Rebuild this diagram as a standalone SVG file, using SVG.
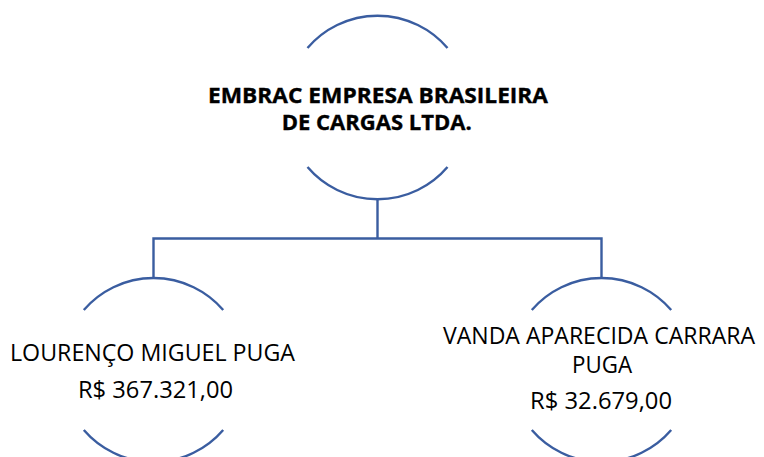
<svg xmlns="http://www.w3.org/2000/svg" width="764" height="457" viewBox="0 0 764 457">
<style>
.arc{fill:none;stroke:#3A5DA0;stroke-width:2.4}
.con{fill:none;stroke:#3A5DA0;stroke-width:2.4}
.t{font-family:"Open Sans","Liberation Sans",sans-serif;fill:#000;text-anchor:middle}
.b{font-weight:bold;font-size:21px;stroke:#000;stroke-width:0.35}
.n{font-size:23.5px}
</style>
<rect width="764" height="457" fill="#fff"/>
<g id="connectors">
<path class="con" d="M377.5,199.5 V238.5 M153.5,278 V238.5 H601.5 V278"/>
</g>
<g id="node-embrac">
<path class="arc" d="M307.5,48 A92,92 0 0 1 447.5,48"/>
<path class="arc" d="M307.5,167 A92,92 0 0 0 447.5,167"/>
<text class="t b" x="378" y="102.5" textLength="340" lengthAdjust="spacingAndGlyphs">EMBRAC EMPRESA BRASILEIRA</text>
<text class="t b" x="376.7" y="129.5" textLength="190" lengthAdjust="spacingAndGlyphs">DE CARGAS LTDA.</text>
</g>
<g id="node-lourenco">
<path class="arc" d="M83.8,310 A92,92 0 0 1 223.2,310"/>
<path class="arc" d="M83.8,430 A92,92 0 0 0 223.2,430"/>
<text class="t n" x="152.5" y="360.5" textLength="285" lengthAdjust="spacingAndGlyphs">LOURENÇO MIGUEL PUGA</text>
<text class="t n" x="155.5" y="397.5" textLength="155" lengthAdjust="spacingAndGlyphs">R$ 367.321,00</text>
</g>
<g id="node-vanda">
<path class="arc" d="M531.8,310 A92,92 0 0 1 671.2,310"/>
<path class="arc" d="M531.8,430 A92,92 0 0 0 671.2,430"/>
<text class="t n" x="599" y="344.3" textLength="312" lengthAdjust="spacingAndGlyphs">VANDA APARECIDA CARRARA</text>
<text class="t n" x="602" y="373.3" textLength="60" lengthAdjust="spacingAndGlyphs">PUGA</text>
<text class="t n" x="601" y="409.3" textLength="142" lengthAdjust="spacingAndGlyphs">R$ 32.679,00</text>
</g>
</svg>
